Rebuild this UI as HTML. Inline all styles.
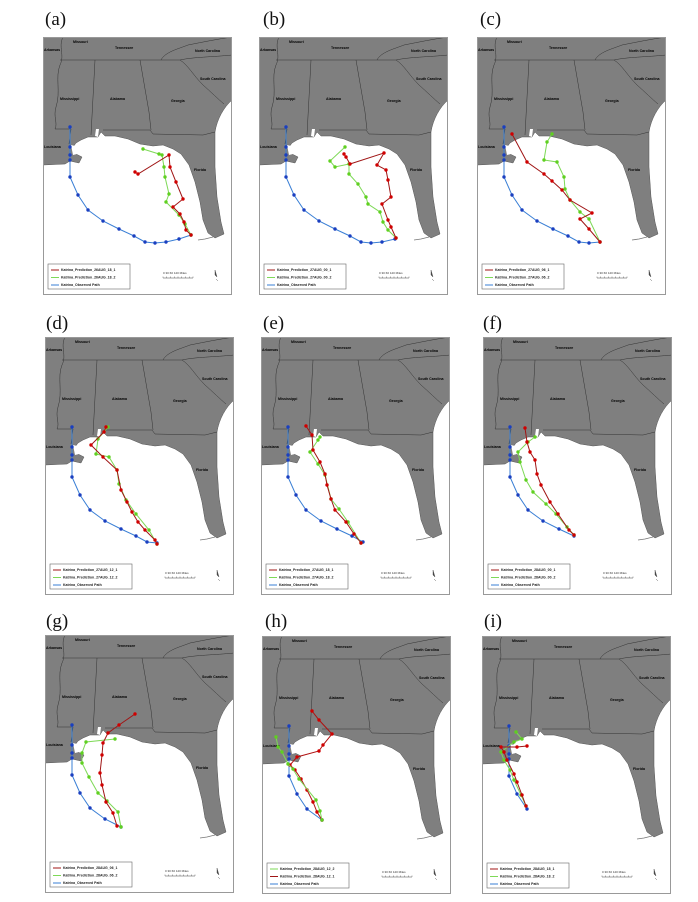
<!DOCTYPE html>
<html><head><meta charset="utf-8">
<style>
html,body{margin:0;padding:0;background:#fff;}
body{width:698px;height:902px;position:relative;overflow:hidden;font-family:"Liberation Serif",serif;}
.lbl{position:absolute;font-size:19px;color:#111;font-family:"Liberation Serif",serif;line-height:1;}
svg.panel{position:absolute;overflow:hidden;}
svg text{font-family:"Liberation Sans",sans-serif;}
</style></head>
<body>
<div id="root"></div>
<script>
// observed Katrina track (lon, lat), earliest first
const observedLon = [-79.2,-80.4,-81.7,-82.8,-83.8,-84.9,-86.4,-88.0,-89.5,-90.5,-91.3,-91.3,-91.3,-91.3,-91.3];
const observedLat = [17.2,16.8,16.5,16.4,16.5,17.1,17.8,18.6,19.7,21.2,23.0,24.7,25.2,26.0,28.0];
const panelTags = ["a","b","c","d","e","f","g","h","i"];
const panelRuns = ["26AUG_18","27AUG_00","27AUG_06","27AUG_12","27AUG_18","28AUG_00","28AUG_06","28AUG_12","28AUG_18"];
const observedStart = [0,1,2,3,4,5,6,7,8];
const redTracks = [
 [[-79.2,17.2],[-79.7,17.7],[-79.9,18.5],[-80.3,19.3],[-81.0,20.0],[-80.0,20.8],[-80.7,22.5],[-81.3,24.0],[-81.4,25.2],[-84.5,23.3],[-84.8,23.5]],
 [[-80.3,16.9],[-80.8,18.0],[-81.1,18.7],[-81.7,20.3],[-80.8,21.0],[-81.1,22.7],[-81.3,23.7],[-82.2,24.2],[-81.5,25.4],[-84.9,24.3],[-85.3,25.0],[-85.5,25.3]],
 [[-81.7,16.5],[-82.8,17.8],[-83.7,18.8],[-82.5,19.4],[-84.7,20.7],[-85.5,21.7],[-86.5,22.6],[-87.3,23.3],[-89.0,24.5],[-90.5,27.3]],
 [[-82.8,16.3],[-83.0,16.7],[-84.0,17.7],[-84.7,18.5],[-85.3,19.5],[-85.8,20.5],[-86.4,21.7],[-86.8,23.7],[-88.2,25.0],[-89.4,26.2],[-88.1,27.5],[-87.9,28.0]],
 [[-84.0,16.4],[-84.7,17.3],[-85.5,18.5],[-86.6,19.7],[-87.0,20.8],[-87.4,22.2],[-87.6,23.3],[-88.1,24.5],[-88.8,25.7],[-88.9,27.2],[-89.5,28.1]],
 [[-84.9,17.2],[-85.4,17.7],[-86.5,19.3],[-87.3,20.5],[-88.2,22.2],[-88.6,23.3],[-88.8,24.7],[-89.3,25.5],[-89.6,26.5],[-89.8,27.9]],
 [[-86.8,17.9],[-87.2,19.2],[-87.9,20.3],[-88.3,22.0],[-88.5,23.2],[-88.3,25.0],[-88.2,26.2],[-87.7,27.2],[-86.6,28.0],[-85.0,29.1]],
 [[-88.0,18.6],[-88.5,19.4],[-88.9,20.4],[-89.5,21.6],[-90.1,22.7],[-90.7,23.6],[-91.2,24.1],[-90.5,24.9],[-88.3,25.5],[-87.9,26.1],[-87.0,27.2],[-88.3,28.6],[-89.0,29.5]],
 [[-89.6,20.0],[-90.0,21.1],[-90.5,22.4],[-90.8,23.2],[-91.5,24.6],[-91.8,25.4],[-92.1,25.9],[-90.5,25.9],[-89.5,26.0]]
];
const greenTracks = [
 [[-79.2,17.2],[-79.8,18.3],[-80.4,19.2],[-81.7,20.5],[-81.4,21.3],[-81.8,23.0],[-81.9,24.0],[-82.1,25.2],[-82.4,25.3],[-84.0,25.8]],
 [[-80.3,16.9],[-81.1,17.7],[-81.6,18.5],[-81.9,19.5],[-83.1,20.3],[-83.3,21.0],[-84.1,22.3],[-85.0,23.3],[-85.0,24.3],[-86.4,24.0],[-86.9,24.6],[-85.4,26.0]],
 [[-81.7,16.5],[-82.8,18.8],[-83.7,19.5],[-84.7,20.7],[-85.2,21.8],[-85.3,23.0],[-86.0,24.5],[-87.3,24.7],[-87.0,26.5],[-86.5,27.3]],
 [[-82.8,16.3],[-83.6,17.7],[-84.9,19.3],[-85.9,20.7],[-86.6,22.3],[-86.8,23.7],[-87.6,25.0],[-88.9,25.3],[-88.7,26.8],[-87.7,28.0]],
 [[-84.0,16.4],[-85.3,18.5],[-86.2,19.8],[-87.0,20.8],[-87.6,23.2],[-88.3,24.3],[-89.1,25.5],[-88.3,26.7],[-88.1,27.0]],
 [[-84.9,17.2],[-85.6,18.0],[-86.7,19.3],[-87.7,20.3],[-89.0,21.5],[-89.7,22.7],[-90.3,24.5],[-90.5,25.5],[-89.5,26.5],[-88.8,27.0]],
 [[-86.4,17.8],[-86.7,19.3],[-87.8,20.4],[-88.7,21.2],[-89.6,22.8],[-90.3,24.2],[-90.3,25.2],[-89.9,26.3],[-87.0,26.6]],
 [[-88.0,18.6],[-88.2,19.5],[-88.6,20.6],[-90.3,22.7],[-90.9,23.7],[-91.4,24.2],[-92.0,25.4],[-92.4,25.9],[-92.6,26.9]],
 [[-89.6,20.0],[-90.1,21.1],[-90.8,22.6],[-91.2,23.6],[-91.8,24.6],[-92.1,25.4],[-90.8,26.4],[-90.0,26.7],[-90.6,27.4]]
];
const panelPos = [[43,37],[259,37],[477,37],[45,337],[261,337],[483,337],[45,635],[262,636],[482,636]];
const labelPos = [[45,10],[263,10],[480,10],[46,314],[263,314],[483,314],[46,612],[265,612],[484,612]];

function xS(lon){return (lon+94)*10;}
function yS(lat){return (37-lat)*10;}

const NS="http://www.w3.org/2000/svg";
const root=document.getElementById('root');
const landPath="M0,0 H189 V63 C181,70 174,82 172,95 L172,130 L174,160 L178,185 L181,197 L172,201 L165,196 L160,183 L157,165 L152,145 L146,128 L138,117 L130,112 L120,108 L110,109 L97,107 L85,102 L72,99 L62,99 L58,95 L55,100 L45,100 L38,103 L33,106 L30,110 L33,117 L39,120 L36,126 L27,124 L22,127 L0,128 Z";
const borders=["M17,23 H137","M20,0 C15,10 22,18 17,28 C12,40 18,55 13,70 C10,80 15,86 12,92 H28 L26,107","M52,23 L48,98","M97,23 L106,75 L108,93","M60,93 L107,93 L110,97 L160,98 L172,95","M137,23 C145,28 150,38 160,48 C168,55 175,62 181,67","M118,23 C122,15 135,12 145,8 C160,5 175,2 189,0","M137,23 C150,20 170,20 189,18"];
const states=[["Missouri",30,6],["Arkansas",1,14],["Tennessee",72,12],["North Carolina",152,15],["South Carolina",157,43],["Mississippi",17,63],["Alabama",67,63],["Georgia",128,65],["Florida",151,134],["Louisiana",1,111]];

function mk(tag,attrs,parent){const e=document.createElementNS(NS,tag);for(const k in attrs)e.setAttribute(k,attrs[k]);parent.appendChild(e);return e;}

function drawTrack(svg,lons,lats,line,dot,nm){
  const g=mk('g',{},svg);
  
  
  let d='';
  for(let i=0;i<lons.length;i++) d+=(i?'L':'M')+xS(lons[i]).toFixed(1)+','+yS(lats[i]).toFixed(1);
  mk('path',{d:d,fill:'none',stroke:line,'stroke-width':1},g);
  for(let i=0;i<lons.length;i++){
    const c=mk('circle',{cx:xS(lons[i]),cy:yS(lats[i]),r:1.7,fill:dot},g);
    
    
  }
}

for(let p=0;p<9;p++){
  const lab=document.createElement('div');
  lab.className='lbl';
  lab.style.left=labelPos[p][0]+'px';lab.style.top=labelPos[p][1]+'px';
  lab.textContent='('+panelTags[p]+')';
  
  
  root.appendChild(lab);

  const svg=document.createElementNS(NS,'svg');
  svg.setAttribute('class','panel');
  svg.setAttribute('width',189);svg.setAttribute('height',258);
  svg.setAttribute('viewBox','0 0 189 258');
  svg.style.left=panelPos[p][0]+'px';svg.style.top=panelPos[p][1]+'px';
  
  
  root.appendChild(svg);
  mk('rect',{x:0,y:0,width:189,height:258,fill:'#fff'},svg);
  const land=mk('path',{d:landPath,fill:'#7f7f7f',stroke:'#555','stroke-width':0.5},svg);
  
  
  mk('path',{d:"M28,108 L36,110 L38,116 L30,118 Z",fill:'#fff'},svg);
  mk('path',{d:"M53,92 L56,92 L55,100 L52,99 Z",fill:'#fff'},svg);
  mk('path',{d:"M155,203 L162,202 L170,200",fill:'none',stroke:'#777','stroke-width':0.8},svg);
  for(const b of borders) mk('path',{d:b,fill:'none',stroke:'#333','stroke-width':0.5},svg);
  for(const s of states){const t=mk('text',{x:s[1],y:s[2],'font-size':3.6,'font-weight':'bold',fill:'#000'},svg);t.textContent=s[0];
    
    }
  mk('rect',{x:0.5,y:0.5,width:188,height:257,fill:'none',stroke:'#999','stroke-width':1},svg);

  drawTrack(svg,observedLon.slice(observedStart[p]),observedLat.slice(observedStart[p]),'#3a7fd5','#1a3fc0','observed-path');
  const gt=greenTracks[p], rt=redTracks[p];
  if(p===7){
    drawTrack(svg,rt.map(v=>v[0]),rt.map(v=>v[1]),'#b01010','#d00000','prediction-1');
    drawTrack(svg,gt.map(v=>v[0]),gt.map(v=>v[1]),'#7ed957','#5fd020','prediction-2');
  } else {
    drawTrack(svg,gt.map(v=>v[0]),gt.map(v=>v[1]),'#7ed957','#5fd020','prediction-2');
    drawTrack(svg,rt.map(v=>v[0]),rt.map(v=>v[1]),'#a01515','#d00000','prediction-1');
  }

  // legend
  const lg=mk('g',{},svg);
  
  
  mk('rect',{x:5,y:227,width:82,height:25,fill:'#fff',stroke:'#666','stroke-width':0.6},lg);
  let entries=[['#a01515','Katrina_Prediction_'+panelRuns[p]+'_1'],['#7ed957','Katrina_Prediction_'+panelRuns[p]+'_2'],['#3a7fd5','Katrina_Observed Path']];
  if(p===7) entries=[entries[1],entries[0],entries[2]];
  entries.forEach((e,i)=>{
    const y=233+i*7.5;
    mk('line',{x1:8,y1:y,x2:16,y2:y,stroke:e[0],'stroke-width':1},lg);
    const t=mk('text',{x:18,y:y+1.2,'font-size':3.5,'font-weight':'bold',fill:'#222'},lg);
    t.textContent=e[1];
    
    
  });
  // scale bar
  const sb=mk('g',{},svg);
  
  
  const st=mk('text',{x:120,y:237,'font-size':3,fill:'#333'},sb);
  st.textContent='0  30  60        120 Miles';
  mk('line',{x1:120,y1:241,x2:150,y2:241,stroke:'#444','stroke-width':0.5},sb);
  for(let k=0;k<=8;k++) mk('line',{x1:120+k*3.75,y1:239.5,x2:120+k*3.75,y2:241,stroke:'#444','stroke-width':0.4},sb);
  const na=mk('path',{d:"M172,233 L174,240 L172,238 Z M173,242 L175,244",fill:'#444',stroke:'#444','stroke-width':0.4},svg);
  
  
}
</script>
</body></html>
